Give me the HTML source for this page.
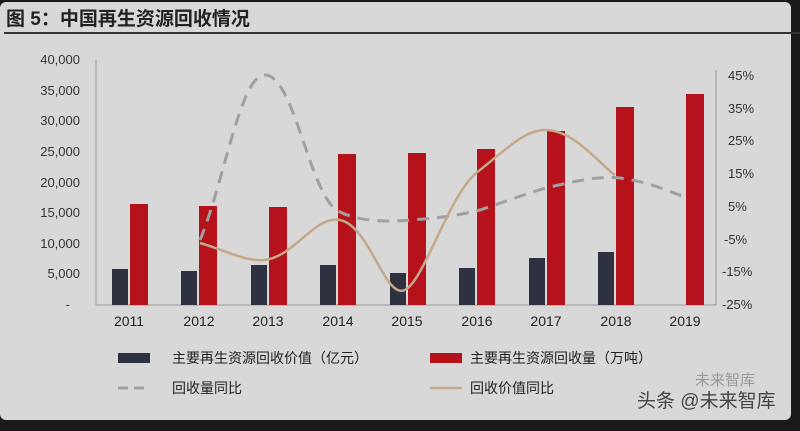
<!DOCTYPE html>
<html><head><meta charset="utf-8"><style>
body{margin:0;width:800px;height:431px;background:#1a1a1a;overflow:hidden;font-family:"Liberation Sans","Noto Sans CJK SC",sans-serif}
</style></head><body>
<svg width="800" height="431" xmlns="http://www.w3.org/2000/svg" style="position:absolute;left:0;top:0">
<rect x="0" y="2" width="791" height="418" rx="6" fill="#d8d8d8"/>
<text x="6" y="25" font-size="19" font-weight="bold" fill="#222" font-family="Liberation Sans,Noto Sans CJK SC,sans-serif">图 5：中国再生资源回收情况</text>
<line x1="4" y1="33" x2="800" y2="33" stroke="#333" stroke-width="2"/>
<g font-size="13" fill="#333" text-anchor="end">
<text x="80" y="64">40,000</text><text x="80" y="95">35,000</text><text x="80" y="125">30,000</text><text x="80" y="156">25,000</text><text x="80" y="187">20,000</text><text x="80" y="217">15,000</text><text x="80" y="248">10,000</text><text x="80" y="278">5,000</text><text x="70" y="309">-</text>
</g>
<g font-size="13" fill="#333" text-anchor="start">
<text x="728" y="80">45%</text><text x="728" y="113">35%</text><text x="728" y="145">25%</text><text x="728" y="178">15%</text><text x="728" y="211">5%</text><text x="724" y="244">-5%</text><text x="722" y="276">-15%</text><text x="722" y="309">-25%</text>
</g>
<line x1="96" y1="60" x2="96" y2="305" stroke="#999"/>
<line x1="716" y1="70" x2="716" y2="305" stroke="#999"/>
<line x1="96" y1="305" x2="716" y2="305" stroke="#999"/>
<g fill="#2e3140">
<rect x="112" y="269" width="16" height="36"/><rect x="181" y="271" width="16" height="34"/><rect x="251" y="265" width="16" height="40"/><rect x="320" y="265" width="16" height="40"/><rect x="390" y="273" width="16" height="32"/><rect x="459" y="268" width="16" height="37"/><rect x="529" y="258" width="16" height="47"/><rect x="598" y="252" width="16" height="53"/>
</g>
<g fill="#b5121b">
<rect x="130" y="204" width="18" height="101"/><rect x="199" y="206" width="18" height="99"/><rect x="269" y="207" width="18" height="98"/><rect x="338" y="154" width="18" height="151"/><rect x="408" y="153" width="18" height="152"/><rect x="477" y="149" width="18" height="156"/><rect x="547" y="131" width="18" height="174"/><rect x="616" y="107" width="18" height="198"/><rect x="686" y="94" width="18" height="211"/>
</g>
<path d="M200,240 C225,180 240,75 265,75 C295,75 310,200 340,212 C360,222 390,222 410,220 C440,218 460,215 480,210 C510,200 530,192 550,187 C580,180 600,176 620,178 C650,182 670,192 685,197" fill="none" stroke="#a0a0a0" stroke-width="3" stroke-dasharray="12,8"/>
<path d="M200,243 C225,250 245,262 265,260 C295,256 315,215 340,220 C370,226 385,300 405,290 C425,280 450,190 480,170 C505,150 525,130 545,130 C575,130 600,165 615,175" fill="none" stroke="#c4a88a" stroke-width="2.5"/>
<g font-size="14" fill="#222" text-anchor="middle">
<text x="129" y="326">2011</text><text x="199" y="326">2012</text><text x="268" y="326">2013</text><text x="338" y="326">2014</text><text x="407" y="326">2015</text><text x="477" y="326">2016</text><text x="546" y="326">2017</text><text x="616" y="326">2018</text><text x="685" y="326">2019</text>
</g>
<rect x="118" y="353" width="32" height="10" fill="#2e3140"/>
<rect x="430" y="353" width="32" height="10" fill="#b5121b"/>
<line x1="118" y1="388" x2="150" y2="388" stroke="#a0a0a0" stroke-width="3" stroke-dasharray="10,6"/>
<line x1="430" y1="388" x2="462" y2="388" stroke="#c4a88a" stroke-width="2.5"/>
<g font-size="14" fill="#222">
<text x="172" y="363">主要再生资源回收价值（亿元）</text>
<text x="470" y="363">主要再生资源回收量（万吨）</text>
<text x="172" y="393">回收量同比</text>
<text x="470" y="393">回收价值同比</text>
</g>
<text x="637" y="407" font-size="19" fill="#444">头条 @未来智库</text>
<text x="695" y="385" font-size="15" fill="#999">未来智库</text>
</svg>
</body></html>
